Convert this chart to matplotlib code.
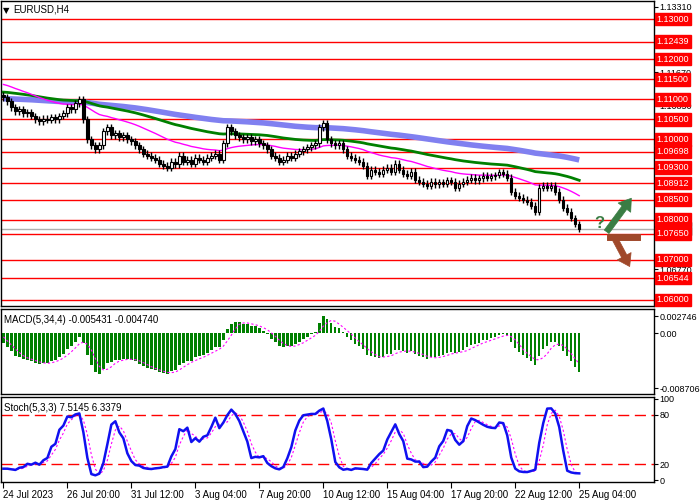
import numpy as np
import pandas as pd
import matplotlib
matplotlib.use("Agg")
import matplotlib.pyplot as plt
from matplotlib import transforms
from matplotlib.lines import Line2D

plt.rcParams["font.family"] = ["Liberation Sans", "DejaVu Sans"]
plt.rcParams["font.size"] = 7

# bars before the visible window (only used to warm up the indicators)
pre_closes = [1.1080, 1.1090, 1.1100, 1.1095, 1.1105, 1.1110, 1.1105, 1.1115, 1.1120, 1.1130,
              1.1140, 1.1150, 1.1160, 1.1170, 1.1180, 1.1185, 1.1190, 1.1195, 1.1200, 1.1195,
              1.1185, 1.1175, 1.1165, 1.1160, 1.1150, 1.1145, 1.1135, 1.1130, 1.1120, 1.1110]

closes = [1.1105, 1.1095, 1.1080,
          1.1070, 1.1075, 1.1065, 1.1068, 1.1058,
          1.1050, 1.1045, 1.1052, 1.1048, 1.1055, 1.1050, 1.1058,
          1.1065, 1.1080, 1.1075, 1.1090, 1.1100,
          1.1050, 1.1000, 1.0985, 1.0975, 1.0985,
          1.1020, 1.1030, 1.1010, 1.1015, 1.1005,
          1.1010, 1.1000, 1.0995, 1.0985, 1.0975,
          1.0965, 1.0960, 1.0955, 1.0950, 1.0940,
          1.0935, 1.0930, 1.0945, 1.0938, 1.0960,
          1.0945, 1.0950, 1.0940, 1.0955, 1.0950,
          1.0945, 1.0955, 1.0960, 1.0965, 1.0950,
          1.0990, 1.1030, 1.1020, 1.1010, 1.1005,
          1.1000, 1.1005, 1.0995, 1.1000, 1.0990,
          1.0985, 1.0975, 1.0960, 1.0955, 1.0945,
          1.0950, 1.0960, 1.0955, 1.0965, 1.0970,
          1.0975, 1.0980, 1.0985, 1.0990, 1.1030,
          1.1040, 1.1000, 1.0990, 1.0985, 1.0990,
          1.0975, 1.0960, 1.0955, 1.0950, 1.0945,
          1.0935, 1.0910, 1.0925, 1.0920, 1.0915,
          1.0925, 1.0930, 1.0920, 1.0940, 1.0925,
          1.0915, 1.0910, 1.0920, 1.0900, 1.0895,
          1.0890, 1.0885, 1.0895, 1.0888, 1.0893,
          1.0890, 1.0898, 1.0895, 1.0880, 1.0890,
          1.0895, 1.0900, 1.0905, 1.0898, 1.0903,
          1.0910, 1.0905, 1.0908, 1.0912, 1.0918,
          1.0915, 1.0905, 1.0870, 1.0860, 1.0855,
          1.0850, 1.0845, 1.0835, 1.0820, 1.0880,
          1.0885, 1.0880, 1.0885, 1.0870, 1.0850,
          1.0830, 1.0820, 1.0805, 1.0790, 1.0778]
wick = 0.0008

levels = [1.13000, 1.12439, 1.12000, 1.11500, 1.11000, 1.10500, 1.10000, 1.09698,
          1.09300, 1.08912, 1.08500, 1.08000, 1.07650, 1.07000, 1.06544, 1.06000]
price_ticks = [1.13310, 1.11670, 1.10850, 1.09230, 1.08410, 1.07590, 1.06770, 1.05950]
x_labels = ["24 Jul 2023", "26 Jul 20:00", "31 Jul 12:00", "3 Aug 04:00", "7 Aug 20:00",
            "10 Aug 12:00", "15 Aug 04:00", "17 Aug 20:00", "22 Aug 12:00", "25 Aug 04:00"]
label_bars = [0, 16, 32, 48, 64, 80, 96, 112, 128, 144]

# indicators on the full series
allc = pd.Series(pre_closes + closes)
opens_all = allc.shift(1).fillna(allc.iloc[0])
highs_all = np.maximum(allc, opens_all) + wick
lows_all = np.minimum(allc, opens_all) - wick
npre = len(pre_closes)
sl = slice(npre, None)

ma_fast = allc.ewm(span=30, adjust=False).mean()
ma_mid = allc.ewm(span=70, adjust=False).mean()
ma_slow = allc.ewm(span=150, adjust=False).mean()

macd = allc.ewm(span=5, adjust=False).mean() - allc.ewm(span=34, adjust=False).mean()
macd_sig = macd.rolling(4, min_periods=1).mean()

hh = pd.Series(highs_all).rolling(5, min_periods=1).max()
ll = pd.Series(lows_all).rolling(5, min_periods=1).min()
num = (allc - ll).rolling(3, min_periods=1).sum()
den = (hh - ll).rolling(3, min_periods=1).sum()
stk = 100 * num / den
std = stk.rolling(3, min_periods=1).mean()

x = np.arange(len(closes))
o = opens_all[sl].values
c = allc[sl].values
h = highs_all[sl].values
l = lows_all[sl].values

fig = plt.figure(figsize=(7, 5), dpi=100)
W, H = 700, 500
def axes_px(top, bottom):
    return fig.add_axes([1 / W, 1 - bottom / H, 653 / W, (bottom - top) / H])

ax = axes_px(1, 306)
ax2 = axes_px(309, 394)
ax3 = axes_px(397, 482)

for a in (ax, ax2, ax3):
    a.set_xlim(-0.6, 162.7)
    a.yaxis.tick_right()
    a.tick_params(axis="y", length=3, pad=1, labelsize=6.5)
    a.tick_params(axis="x", length=0)
    a.set_xticks([])
    for s in a.spines.values():
        s.set_linewidth(1)

# main chart
ax.set_ylim(1.0585, 1.1345)
for lv in levels:
    ax.axhline(lv, color="red", lw=1, zorder=1)
ax.axhline(c[-1], color="#b0b0b0", lw=1, zorder=1)

ax.plot(x, ma_slow[sl].values, color="#8080f0", lw=4, zorder=2, solid_capstyle="butt")
ax.plot(x, ma_mid[sl].values, color="green", lw=2, zorder=3)
ax.plot(x, ma_fast[sl].values, color="magenta", lw=1, zorder=3)

ax.vlines(x, l, h, color="black", lw=1, zorder=4)
up = c >= o
ax.bar(x[up], c[up] - o[up], bottom=o[up], width=0.6, color="white", edgecolor="black", lw=0.8, zorder=5)
ax.bar(x[~up], o[~up] - c[~up], bottom=c[~up], width=0.6, color="black", edgecolor="black", lw=0.8, zorder=5)

ax.set_yticks(price_ticks)
ax.set_yticklabels([f"{p:.5f}" for p in price_ticks])
tr = transforms.blended_transform_factory(ax.transAxes, ax.transData)
for lv in levels:
    ax.text(1.004, lv, f"{lv:.5f}", transform=tr, color="white", fontsize=6.5, va="center", ha="left",
            bbox=dict(boxstyle="square,pad=0.2", fc="red", ec="red"), clip_on=False, zorder=10)
ax.text(1.004, c[-1], f"{c[-1]:.5f}", transform=tr, color="white", fontsize=6.5, va="center", ha="left",
        bbox=dict(boxstyle="square,pad=0.2", fc="black", ec="black"), clip_on=False, zorder=9)
ax.text(0.003, 0.985, "\u25bc", transform=ax.transAxes, fontsize=6, va="top", family="DejaVu Sans")
ax.text(0.018, 0.99, "EURUSD,H4", transform=ax.transAxes, fontsize=7, va="top")

# forecast arrows
ax.annotate("", xy=(633, 500 - 196), xytext=(605, 500 - 234), xycoords="figure pixels",
            arrowprops=dict(arrowstyle="simple,head_width=1.6,head_length=1.2,tail_width=0.6",
                            color="#3a7d44", lw=0.5))
fig.add_artist(Line2D([610 / W, 637 / W], [1 - 237 / H, 1 - 237 / H], color="#a0482a", lw=5))
ax.annotate("", xy=(631, 500 - 269), xytext=(614, 500 - 237), xycoords="figure pixels",
            arrowprops=dict(arrowstyle="simple,head_width=1.6,head_length=1.2,tail_width=0.6",
                            color="#a0482a", lw=0.5))
fig.text(594 / W, 1 - 224 / H, "?", color="#3a7d44", fontsize=12, fontweight="bold", va="center",
         zorder=20)

# MACD
ax2.set_ylim(-0.00966, 0.00386)
ax2.bar(x, macd[sl].values, width=0.6, color="green", zorder=2)
ax2.plot(x, macd_sig[sl].values, color="magenta", lw=0.8, ls=(0, (2, 2)), zorder=3)
ax2.set_yticks([0.002746, 0.0, -0.008706])
ax2.set_yticklabels(["0.002746", "0.00", "-0.008706"])
ax2.text(0.005, 0.93, "MACD(5,34,4) -0.005431 -0.004740",
         transform=ax2.transAxes, va="top", fontsize=7)

# Stochastic
ax3.set_ylim(-2, 102)
ax3.axhline(80, color="red", lw=1, ls=(0, (8, 4)))
ax3.axhline(20, color="red", lw=1, ls=(0, (8, 4)))
ax3.plot(x, std[sl].values, color="magenta", lw=0.8, ls=(0, (2, 2)))
ax3.plot(x, stk[sl].values, color="#1010f0", lw=1.8)
ax3.set_yticks([100, 80, 20, 0])
ax3.text(0.005, 0.93, "Stoch(5,3,3) 7.5145 6.3379",
         transform=ax3.transAxes, va="top", fontsize=7)
ax3.set_xticks(label_bars)
ax3.set_xticklabels(x_labels, ha="left")
ax3.tick_params(axis="x", length=4, pad=2, labelsize=7)

fig.savefig("out.png", dpi=100)
